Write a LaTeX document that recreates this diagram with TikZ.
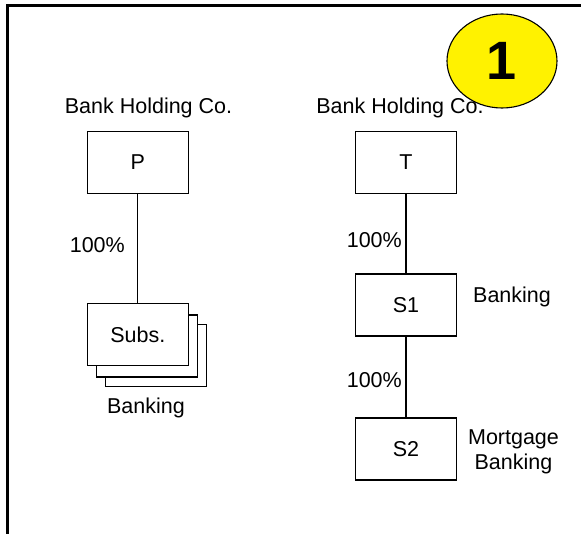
\documentclass[tikz,border=0pt]{standalone}
\usepackage{fontspec}
\setmainfont{Liberation Sans}
\usetikzlibrary{positioning,shapes.geometric}
\tikzset{>=latex}

\begin{document}
\begin{tikzpicture}[x=1pt, y=-1pt,
    every node/.style={font=\fontsize{21.5}{24.7}\selectfont, inner sep=0pt},
    box/.style={draw, line width=1.1pt, fill=white, minimum width=101pt, minimum height=62pt},
    pct/.style={anchor=base east},
    badge/.style={draw, line width=1.1pt, ellipse, fill=yellow, minimum width=110pt, minimum height=94pt,
                  font=\fontsize{54}{60}\selectfont\bfseries}]
    \useasboundingbox (0,0) rectangle (581,534);

    % Frame
    \draw[line width=3pt] (7.3,534) -- (7.3,5.3) -- (581,5.3);

    % Badge
    \node[badge] (num) at (502,61) {1};

    % Nodes
    \node (hcP) [anchor=base] at (148.5,113.3) {Bank Holding Co.};
    \node (hcT) [anchor=base] at (400,113.3) {Bank Holding Co.};
    \node (P) [box] at (137.8,162.5) {P};
    \node (T) [box] at (406,162.5) {T};
    \node (Subs3) [box] at (156.3,355.5) {};
    \node (Subs2) [box] at (147.2,346) {};
    \node (Subs) [box] at (137.8,334.7) {Subs.};
    \node (bankL) [anchor=base] at (146,413.7) {Banking};
    \node (S1) [box] at (406,305) {S1};
    \node (bankR) [anchor=base west] at (473,302.7) {Banking};
    \node (S2) [box] at (406,449) {S2};
    \node (mort) [anchor=base, align=center] at (513.5,469) {Mortgage\\Banking};

    % Lines
    \draw[line width=1.1pt] (P) -- (Subs);
    \draw[line width=1.1pt] (T) -- (S1);
    \draw[line width=1.1pt] (S1) -- (S2);

    % Percentages
    \node (pP) [pct] at (125,253) {100\%};
    \node (pT) [pct] at (402,247.3) {100\%};
    \node (pS) [pct] at (402,387.7) {100\%};
\end{tikzpicture}
\end{document}
